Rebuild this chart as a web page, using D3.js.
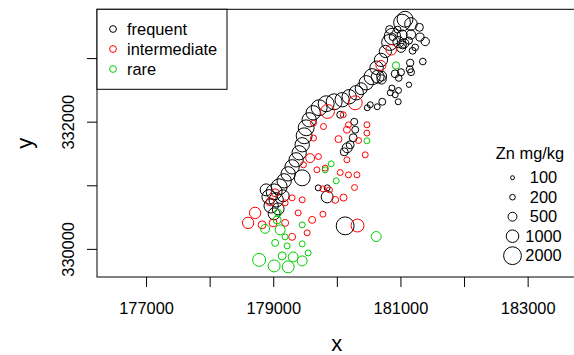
<!DOCTYPE html>
<html><head><meta charset="utf-8">
<script src="https://cdn.jsdelivr.net/npm/d3@7"></script>
<style>
body{margin:0;background:#fff}
svg{display:block}
text{font-family:"Liberation Sans",Arial,Helvetica,sans-serif;fill:#000}
</style>
</head><body>
<svg id="c" width="574" height="355"></svg>
<script>
// ---- data ----
const categories = ["frequent", "intermediate", "rare"];
const ptX = [
181072,181025,181165,181298,181307,181390,181165,181027,181060,181232,181191,181032,180874,180969,181011,180830,180763,180694,180625,180555,180642,180704,180704,181153,181147,181167,181008,180973,180916,181352,181133,180878,180829,180954,
180462,180383,180305,180194,180084,179958,179832,179722,179628,179565,179518,179486,179455,179408,179360,179297,179235,179172,179093,179014,178935,179046,178967,179077,179014,179156,178888,
180053,180273,180289,180257,180210,180163,180116,179455,179848,179707,179848,180131,
181134,180866,180970,180840,180918,180965,180714,180478,180525,180635,
// intermediate
180855,180693,180289,179853,180100,179633,179790,180183,180158,180473,180473,180026,180341,179633,180446,180158,179711,179581,179475,179686,179817,180053,180183,180316,179781,179884,180278,179974,180105,179781,180325,179030,178951,179187,179297,179455,179392,179612,178715,178605,178825,178998,179187,179533,179297,
// rare
180929,180473,179911,179817,179990,179077,179061,179109,178873,179455,179187,179030,179219,179455,179549,179140,179313,179455,178778,179014,179235,180619
];
const ptY = [
333611,333558,333537,333484,333330,333260,333370,333363,333231,333168,333115,333206,333339,333252,333161,333246,333104,332972,332847,332707,332708,332717,332664,332925,332823,332778,332777,332687,332753,332946,333275,333331,333449,333448,
332612,332518,332455,332392,332345,332313,332282,332219,332140,332030,331904,331778,331637,331511,331400,331290,331180,331070,330976,330897,330818,330771,330677,330629,330551,330834,330928,
332109,331998,331873,331747,331637,331589,331526,331117,330818,330960,330960,330362,
332581,332529,332491,332455,332423,332313,332313,332219,332266,332235,
333131,332884,332297,332161,332109,331978,331924,331951,331873,331951,331821,331726,331704,331742,331479,331400,331452,331427,331322,331243,331270,331201,331164,331164,330944,330928,330965,330771,330807,330546,330367,330881,330740,330724,330803,330771,330566,330456,330566,330409,330378,330409,330409,330252,330189,
332884,331699,331338,331243,331070,330566,330456,330299,330315,330378,330189,330094,330047,330079,329937,329890,329874,329811,329827,329732,329717,330194
];
const zinc = [
1594,1780,998,401,420,438,540,633,541,285,295,392,1710,786,509,1610,945,1109,1147,1641,1050,627,535,340,312,303,323,281,374,281,324,309,390,300,
1300,900,1300,1300,1300,1600,1600,1600,1300,1300,1600,1600,1300,1300,1300,1300,1300,1300,1600,1600,1300,1300,1300,900,900,900,900,
306,306,306,400,400,625,400,1600,900,225,225,2025,
182,225,225,225,225,225,306,225,225,225,
702,625,1225,1225,225,225,225,225,306,225,225,306,225,225,225,225,225,506,225,225,225,225,225,225,225,225,225,306,306,225,1056,400,400,225,225,225,225,306,812,812,400,400,306,225,306,
342,225,225,225,225,306,400,625,506,225,225,306,225,225,225,400,625,625,1056,900,900,625
];
const ffreq = [].concat(
  Array(34+27+12+10).fill(1),
  Array(45).fill(2),
  Array(22).fill(3)
);
const legendZn = [100, 200, 500, 1000, 2000];
const xTicks = [177000, 178000, 179000, 180000, 181000, 182000, 183000];
const xTickLabels = ["177000", "", "179000", "", "181000", "", "183000"];
const yTicks = [330000, 331000, 332000, 333000];
const yTickLabels = ["330000", "", "332000", ""];

// ---- layout ----
const colors = ["#000000", "#FF0000", "#00CD00"];
const usrX = [176229, 183766], usrY = [329558, 333767];
const P = {left: 97, top: 9.3, bottom: 277};
const s = (P.bottom - P.top) / (usrY[1] - usrY[0]);
const xS = d3.scaleLinear().domain(usrX).range([P.left, P.left + (usrX[1] - usrX[0]) * s]);
const yS = d3.scaleLinear().domain(usrY).range([P.bottom, P.top]);
const rS = d3.scaleSqrt().domain([0, 2000]).range([0, 8.9]);
const cS = d3.scaleOrdinal().domain([1, 2, 3]).range(colors);
const FS = 16.4;

const svg = d3.select("#c");

// points
const pts = d3.range(ptX.length).map(i => ({x: ptX[i], y: ptY[i], z: zinc[i], f: ffreq[i]}));
svg.append("g").selectAll("circle").data(pts).join("circle")
  .attr("cx", d => xS(d.x)).attr("cy", d => yS(d.y)).attr("r", d => rS(d.z))
  .attr("fill", "none").attr("stroke", d => cS(d.f)).attr("stroke-width", 1);

// box
svg.append("rect").attr("x", P.left).attr("y", P.top)
  .attr("width", xS.range()[1] - P.left).attr("height", P.bottom - P.top)
  .attr("fill", "none").attr("stroke", "#000").attr("stroke-width", 1);

// x axis
const gx = svg.append("g").attr("transform", `translate(0,${P.bottom})`)
  .call(d3.axisBottom(xS).tickValues(xTicks).tickSize(10).tickPadding(15.5)
    .tickFormat((d, i) => xTickLabels[i]));
gx.select(".domain").remove();
gx.selectAll("line").attr("stroke", "#000");
gx.selectAll("text").attr("font-size", FS).attr("font-family", null);

// y axis
const gy = svg.append("g").attr("transform", `translate(${P.left},0)`)
  .call(d3.axisLeft(yS).tickValues(yTicks).tickSize(10).tickFormat((d, i) => yTickLabels[i]));
gy.select(".domain").remove();
gy.selectAll("line").attr("stroke", "#000");
gy.selectAll("text").attr("font-size", FS).attr("font-family", null)
  .attr("x", null).attr("dy", null).attr("text-anchor", "middle")
  .attr("transform", "translate(-23,0) rotate(-90)");

// axis titles
svg.append("text").attr("x", xS(180000)).attr("y", 351).attr("text-anchor", "middle")
  .attr("font-size", 22).text("x");
svg.append("text").attr("transform", `translate(32,${(P.top + P.bottom) / 2}) rotate(-90)`)
  .attr("text-anchor", "middle").attr("font-size", 22).text("y");

// legend top-left
const lg = svg.append("g");
lg.append("rect").attr("x", P.left).attr("y", P.top).attr("width", 130).attr("height", 80)
  .attr("fill", "#fff").attr("stroke", "#000").attr("stroke-width", 1);
categories.forEach((c, i) => {
  const yy = 29 + i * 20;
  lg.append("circle").attr("cx", 113).attr("cy", yy).attr("r", 3.4)
    .attr("fill", "none").attr("stroke", colors[i]).attr("stroke-width", 1);
  lg.append("text").attr("x", 127).attr("y", yy).attr("dy", "0.35em")
    .attr("font-size", FS).text(c);
});

// legend right (zinc sizes)
const rg = svg.append("g");
rg.append("text").attr("x", 530).attr("y", 158.5).attr("text-anchor", "middle")
  .attr("font-size", FS).text("Zn mg/kg");
legendZn.forEach((v, i) => {
  const yy = 177.7 + i * 19.5;
  rg.append("circle").attr("cx", 512.5).attr("cy", yy).attr("r", rS(v))
    .attr("fill", "none").attr("stroke", "#000").attr("stroke-width", 1);
  rg.append("text").attr("x", 543.5).attr("y", yy).attr("dy", "0.35em").attr("text-anchor", "middle")
    .attr("font-size", FS).text(v);
});
</script>
</body></html>
